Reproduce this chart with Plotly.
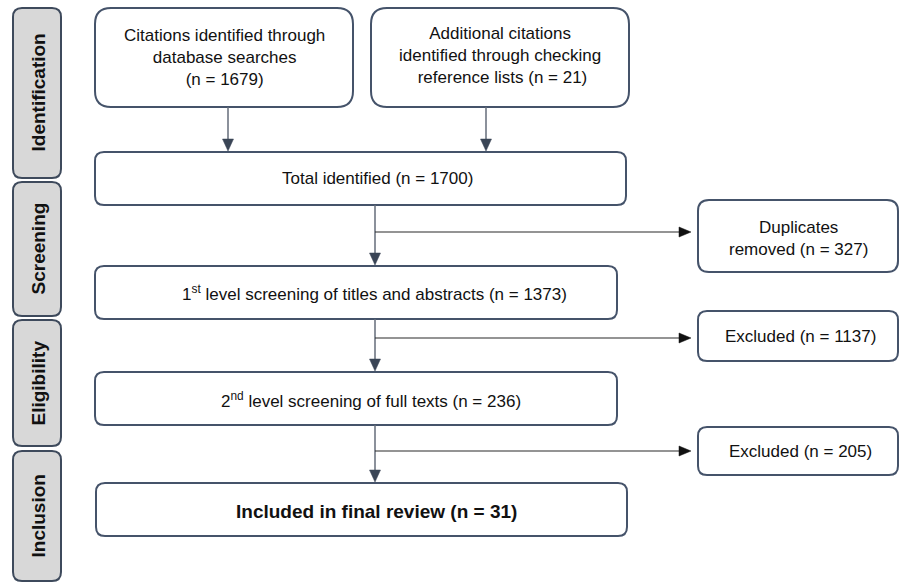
import plotly.graph_objects as go

# ---------------- data ----------------
stage_labels = ["Identification", "Screening", "Eligibility", "Inclusion"]

n_database = 1679
n_additional = 21
n_total = 1700
n_duplicates = 327
n_first_level = 1373
n_excluded_first = 1137
n_second_level = 236
n_excluded_second = 205
n_included = 31

box_texts = {
    "db": f"Citations identified through<br>database searches<br>(n = {n_database})",
    "add": f"Additional citations<br>identified through checking<br> reference lists (n = {n_additional})",
    "total": f"Total identified (n = {n_total})",
    "dup": f"Duplicates<br>removed (n = {n_duplicates})",
    "first": f"1<sup>st</sup> level screening of titles and abstracts (n = {n_first_level})",
    "exc1": f"Excluded (n = {n_excluded_first})",
    "second": f"2<sup>nd</sup> level screening of full texts (n = {n_second_level})",
    "exc2": f"Excluded (n = {n_excluded_second})",
    "incl": f"<b>Included in final review (n = {n_included})</b>",
}

# ---------------- layout geometry ----------------
W, H = 901, 583
FONT = "Liberation Sans, Arial, sans-serif"
BOX_LINE = "#45536a"
STAGE_FILL = "#d8d8d8"

# stage bars: (y0, y1)
stage_geo = [(8, 178), (182, 316), (320, 446), (451, 581)]
# boxes: key -> (x0, y0, x1, y1, radius, text_x, text_y, size)
box_geo = {
    "db": (95, 8, 353, 107, 16, 224, 57, 17),
    "add": (371, 8, 629, 107, 16, 500, 55, 17),
    "total": (95, 152, 626, 205, 9, 377, 178.5, 17),
    "dup": (698, 200, 898, 272, 11, 798, 238, 17),
    "first": (95, 266, 617, 319, 9, 374, 293, 17),
    "exc1": (698, 311, 898, 361, 9, 800, 336.5, 17),
    "second": (95, 372, 617, 425, 9, 371, 400, 17),
    "exc2": (698, 427, 898, 475, 9, 800, 451, 17),
    "incl": (96, 483, 627, 536, 9, 376, 511, 19),
}


def rrect(x0, y0, x1, y1, r):
    return (f"M {x0+r},{y0} H {x1-r} Q {x1},{y0} {x1},{y0+r} V {y1-r} "
            f"Q {x1},{y1} {x1-r},{y1} H {x0+r} Q {x0},{y1} {x0},{y1-r} "
            f"V {y0+r} Q {x0},{y0} {x0+r},{y0} Z")


shapes = []
annotations = []

# stage bars
for label, (y0, y1) in zip(stage_labels, stage_geo):
    shapes.append(dict(type="path", path=rrect(13, y0, 61, y1, 9),
                       fillcolor=STAGE_FILL, line=dict(color="#3e4a5c", width=2),
                       xref="x", yref="y", layer="below"))
    annotations.append(dict(x=37.5, y=(y0 + y1) / 2, xref="x", yref="y",
                            text=f"<b>{label}</b>", textangle=-90, showarrow=False,
                            font=dict(family=FONT, size=19, color="#111111")))

# boxes
for key, (x0, y0, x1, y1, r, tx, ty, fs) in box_geo.items():
    shapes.append(dict(type="path", path=rrect(x0, y0, x1, y1, r),
                       fillcolor="white", line=dict(color=BOX_LINE, width=2),
                       xref="x", yref="y"))
    annotations.append(dict(x=tx, y=ty, xref="x", yref="y", text=box_texts[key],
                            showarrow=False, align="center",
                            font=dict(family=FONT, size=fs, color="#111111")))

VLINE = "#646c7a"
VHEAD = "#3a4556"


def v_arrow(x, y0, y1):
    shapes.append(dict(type="line", x0=x, x1=x, y0=y0, y1=y1 - 10,
                       line=dict(color=VLINE, width=1.5), xref="x", yref="y"))
    shapes.append(dict(type="path",
                       path=f"M {x},{y1 - 1} L {x-5.5},{y1 - 13} L {x+5.5},{y1 - 13} Z",
                       fillcolor=VHEAD, line=dict(color=VHEAD, width=0.5),
                       xref="x", yref="y"))


def h_arrow(x0, x1, y):
    shapes.append(dict(type="line", x0=x0, x1=x1 - 10, y0=y, y1=y,
                       line=dict(color="#2a2a2a", width=1.2), xref="x", yref="y"))
    shapes.append(dict(type="path",
                       path=f"M {x1},{y} L {x1-12},{y-5} L {x1-12},{y+5} Z",
                       fillcolor="#111111", line=dict(color="#111111", width=0.5),
                       xref="x", yref="y"))


# vertical arrows
v_arrow(228, 107, 152)
v_arrow(486, 107, 152)
v_arrow(375, 205, 266)
v_arrow(375, 319, 372)
v_arrow(375, 425, 483)
# horizontal arrows
h_arrow(375, 691, 232)
h_arrow(375, 691, 338)
h_arrow(375, 691, 451)

fig = go.Figure()
fig.update_layout(
    width=W, height=H, autosize=False,
    margin=dict(l=0, r=0, t=0, b=0),
    paper_bgcolor="white", plot_bgcolor="white",
    xaxis=dict(range=[0, W], visible=False, fixedrange=True),
    yaxis=dict(range=[H, 0], visible=False, fixedrange=True),
    shapes=shapes, annotations=annotations, showlegend=False,
)
fig.write_html(
    "out.html",
    config={"displayModeBar": False, "staticPlot": True},
    post_script="document.body.style.margin='0';document.body.style.overflow='hidden';",
)
